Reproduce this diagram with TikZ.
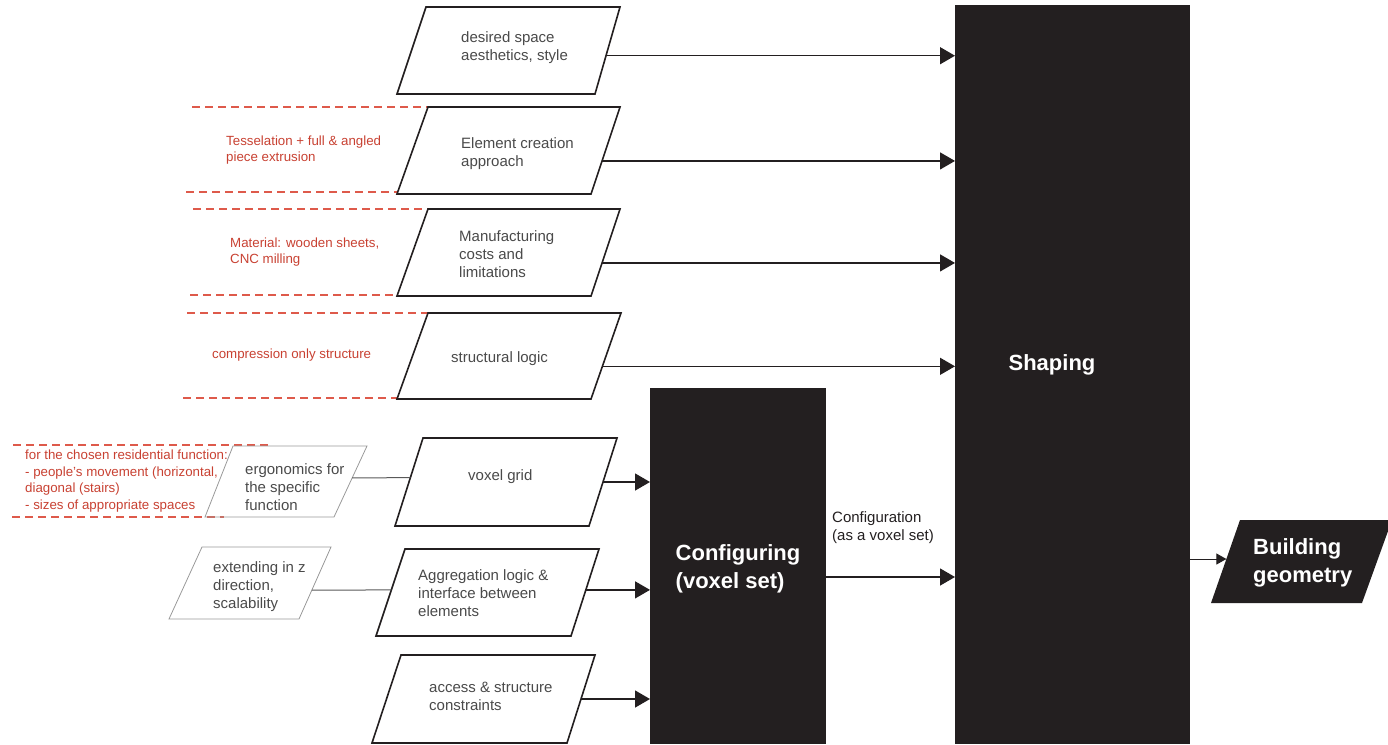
\documentclass[tikz,border=0pt]{standalone}
\usepackage{fontspec}
\setmainfont{Liberation Sans}
\usetikzlibrary{arrows.meta,calc}
\definecolor{blk}{HTML}{231F20}
\definecolor{txt}{HTML}{4A4A4A}
\definecolor{rtxt}{RGB}{200,65,50}
\definecolor{rdash}{RGB}{222,90,75}
\newcommand\mypara[8]{%
  \coordinate (#2-tl) at (#3,#5); \coordinate (#2-tr) at (#4,#5);
  \coordinate (#2-bl) at (#6,#8); \coordinate (#2-br) at (#7,#8);
  \draw[#1] (#2-tl) -- (#2-tr) -- (#2-br) -- (#2-bl) -- cycle;}
\begin{document}
\begin{tikzpicture}[x=1pt,y=-1pt,
  para/.style={draw=blk, line width=1.6pt, line join=miter, fill=white},
  gpara/.style={draw=black!40, line width=0.8pt},
  lbl/.style={text=txt, font=\fontsize{15}{18}\selectfont, align=left, anchor=west, inner sep=0pt},
  note/.style={text=rtxt, font=\fontsize{13.3}{16.5}\selectfont, align=left, anchor=west, inner sep=0pt},
  rline/.style={draw=rdash, line width=1.2pt, dash pattern=on 8pt off 5pt},
  arr/.style={draw=blk, line width=1.4pt, -{Triangle[length=15pt,width=17pt]}},
  thinarr/.style={draw=blk, line width=1pt, -{Triangle[length=10pt,width=11pt]}},
  conn/.style={draw=black!65, line width=1pt},
  blkbox/.style={fill=blk, draw=none, inner sep=0pt},
  big/.style={text=white, font=\bfseries\fontsize{22}{28}\selectfont, align=left, inner sep=0pt}]
\useasboundingbox (0,0) rectangle (1388,744);

% big boxes
\node[blkbox, minimum width=235pt, minimum height=739pt, anchor=north west] (shaping) at (955,5) {};
\node[big] (shapinglbl) at (1052,365) {Shaping};
\node[blkbox, minimum width=176pt, minimum height=356pt, anchor=north west] (config) at (650,388) {};
\node[big] (configlbl) at (738,569) {Configuring\\(voxel set)};

% red dashed lines
\draw[rline] (192,107) -- (428,107);
\draw[rline] (186,192) -- (397,192);
\draw[rline] (193,209) -- (430,209);
\draw[rline] (190,295) -- (397,295);
\draw[rline] (187,313) -- (428,313);
\draw[rline] (183,398) -- (397,398);
\draw[rline] (13,445) -- (272,445);
\draw[rline] (12,517) -- (224,517);

% red notes
\node[note] (n2) at (226,150) {Tesselation + full \& angled\\piece extrusion};
\node[note] (n3) at (230,252) {Material: wooden sheets,\\CNC milling};
\node[note] (n4) at (212,355) {compression only structure};
\node[note] (n5) at (25,481) {for the chosen residential function:\\- people's movement (horizontal,\\diagonal (stairs)\\- sizes of appropriate spaces};

% parallelograms (upper)
\mypara{para}{p1}{426}{620}{7}{397}{595}{94}
\mypara{para}{p2}{428}{620}{107}{397}{591}{194}
\mypara{para}{p3}{428}{620}{209}{397}{591}{296}
\mypara{para}{p4}{428}{621}{313}{397}{591}{399}
\node[lbl] (t1) at (461,48) {desired space\\aesthetics, style};
\node[lbl] (t2) at (461,154) {Element creation\\approach};
\node[lbl] (t3) at (459,254) {Manufacturing\\costs and\\limitations};
\node[lbl] (t4) at (451,359) {structural logic};

% parallelograms (lower)
\mypara{para}{v1}{423}{617}{438}{395}{589}{526}
\mypara{para}{v2}{405}{599}{549}{376}{571}{636}
\mypara{para}{v3}{401}{595}{655}{372}{567}{743}
\node[lbl] (tv1) at (468,477) {voxel grid};
\node[lbl] (tv2) at (418,593) {Aggregation logic \&\\interface between\\elements};
\node[lbl] (tv3) at (429,696) {access \& structure\\constraints};

% grey parallelograms
\mypara{gpara}{g1}{233}{367}{446}{205}{334}{517}
\mypara{gpara}{g2}{202}{331}{547}{169}{299}{619}
\node[lbl] (tg1) at (245,487) {ergonomics for\\the specific\\function};
\node[lbl] (tg2) at (213,587) {extending in z\\direction,\\scalability};

% building geometry
\mypara{blkbox}{bg}{1240}{1392}{520}{1211}{1362}{603}
\node[big, anchor=west] (bglbl) at (1253,563) {Building\\geometry};

% arrows to shaping
\coordinate (p1o) at ($(p1-tr)!0.56!(p1-br)$);
\coordinate (p2o) at ($(p2-tr)!0.62!(p2-br)$);
\coordinate (p3o) at ($(p3-tr)!0.62!(p3-br)$);
\coordinate (p4o) at ($(p4-tr)!0.62!(p4-br)$);
\draw[arr] (p1o) -- (p1o -| shaping.west);
\draw[arr] (p2o) -- (p2o -| shaping.west);
\draw[arr] (p3o) -- (p3o -| shaping.west);
\draw[arr] (p4o) -- (p4o -| shaping.west);

% arrows to configuring
\coordinate (v1o) at ($(v1-tr)!0.5!(v1-br)$);
\coordinate (v2o) at ($(v2-tr)!0.47!(v2-br)$);
\coordinate (v3o) at ($(v3-tr)!0.5!(v3-br)$);
\draw[arr] (v1o) -- (v1o -| config.west);
\draw[arr] (v2o) -- (v2o -| config.west);
\draw[arr] (v3o) -- (v3o -| config.west);

% grey connectors
\coordinate (g1o) at ($(g1-tr)!0.45!(g1-br)$);
\coordinate (v1i) at ($(v1-tl)!0.45!(v1-bl)$);
\draw[conn] (g1o) -- (v1i);
\coordinate (g2o) at ($(g2-tr)!0.6!(g2-br)$);
\coordinate (v2i) at ($(v2-tl)!0.47!(v2-bl)$);
\draw[conn] (g2o) -- (v2i);

% configuration -> shaping
\node[lbl, text=blk] (cfgtxt) at (832,528) {Configuration\\(as a voxel set)};
\coordinate (c577) at (826,577);
\draw[arr] (config.east |- c577) -- (shaping.west |- c577);

% shaping -> building geometry
\coordinate (bgi) at ($(bg-tl)!0.47!(bg-bl)$);
\draw[thinarr] (shaping.east |- bgi) -- (bgi);
\end{tikzpicture}
\end{document}
